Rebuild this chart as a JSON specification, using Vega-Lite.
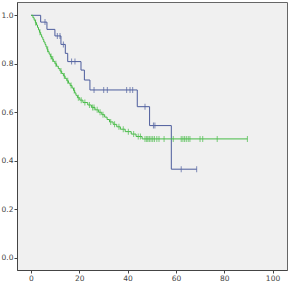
{
  "$schema": "https://vega.github.io/schema/vega-lite/v6.json",
  "autosize": "none",
  "width": 270,
  "height": 268,
  "padding": {"left": 17, "top": 2, "right": 3, "bottom": 15},
  "background": "white",
  "config": {
    "view": {"fill": "#f0f0f0", "stroke": "#666", "strokeWidth": 1},
    "axis": {"grid": false, "labelFont": "DejaVu Sans", "labelFontSize": 7.5, "labelColor": "#444", "tickColor": "#444", "tickSize": 3, "domainColor": "#444", "title": null, "labelPadding": 1}
  },
  "data": {"values": [
    {"g":"B","t":0,"s":1.0,"c":0},
    {"g":"B","t":4.0,"s":0.972,"c":0},
    {"g":"B","t":5.8,"s":0.972,"c":1},
    {"g":"B","t":6.6,"s":0.942,"c":0},
    {"g":"B","t":9.9,"s":0.915,"c":0},
    {"g":"B","t":10.9,"s":0.915,"c":1},
    {"g":"B","t":12.0,"s":0.915,"c":1},
    {"g":"B","t":12.4,"s":0.88,"c":0},
    {"g":"B","t":13.4,"s":0.88,"c":1},
    {"g":"B","t":14.2,"s":0.843,"c":0},
    {"g":"B","t":15.2,"s":0.809,"c":0},
    {"g":"B","t":16.8,"s":0.809,"c":1},
    {"g":"B","t":18.2,"s":0.809,"c":1},
    {"g":"B","t":20.7,"s":0.774,"c":0},
    {"g":"B","t":22.1,"s":0.733,"c":0},
    {"g":"B","t":24.4,"s":0.692,"c":0},
    {"g":"B","t":26.1,"s":0.692,"c":1},
    {"g":"B","t":30.1,"s":0.692,"c":1},
    {"g":"B","t":31.6,"s":0.692,"c":1},
    {"g":"B","t":39.6,"s":0.692,"c":1},
    {"g":"B","t":41.0,"s":0.692,"c":1},
    {"g":"B","t":42.1,"s":0.692,"c":1},
    {"g":"B","t":44.0,"s":0.623,"c":0},
    {"g":"B","t":47.2,"s":0.623,"c":1},
    {"g":"B","t":49.1,"s":0.545,"c":0},
    {"g":"B","t":50.7,"s":0.545,"c":1},
    {"g":"B","t":51.3,"s":0.545,"c":1},
    {"g":"B","t":58.1,"s":0.365,"c":0},
    {"g":"B","t":62.2,"s":0.365,"c":1},
    {"g":"B","t":68.6,"s":0.365,"c":1},
    {"g":"G","t":0,"s":1.0,"c":0},
    {"g":"G","t":0.8,"s":0.99,"c":0},
    {"g":"G","t":1.3,"s":0.98,"c":0},
    {"g":"G","t":1.8,"s":0.97,"c":0},
    {"g":"G","t":1.9,"s":0.97,"c":1},
    {"g":"G","t":2.3,"s":0.96,"c":0},
    {"g":"G","t":2.7,"s":0.95,"c":0},
    {"g":"G","t":3.1,"s":0.94,"c":0},
    {"g":"G","t":3.5,"s":0.93,"c":0},
    {"g":"G","t":3.7,"s":0.93,"c":1},
    {"g":"G","t":4.0,"s":0.92,"c":0},
    {"g":"G","t":4.4,"s":0.91,"c":0},
    {"g":"G","t":4.9,"s":0.90,"c":0},
    {"g":"G","t":5.3,"s":0.89,"c":0},
    {"g":"G","t":5.8,"s":0.88,"c":0},
    {"g":"G","t":6.2,"s":0.87,"c":0},
    {"g":"G","t":6.6,"s":0.86,"c":0},
    {"g":"G","t":6.9,"s":0.86,"c":1},
    {"g":"G","t":7.0,"s":0.85,"c":0},
    {"g":"G","t":7.5,"s":0.84,"c":0},
    {"g":"G","t":8.0,"s":0.83,"c":0},
    {"g":"G","t":8.3,"s":0.83,"c":1},
    {"g":"G","t":8.6,"s":0.82,"c":0},
    {"g":"G","t":9.0,"s":0.82,"c":1},
    {"g":"G","t":9.2,"s":0.81,"c":0},
    {"g":"G","t":9.9,"s":0.80,"c":0},
    {"g":"G","t":10.3,"s":0.80,"c":1},
    {"g":"G","t":10.6,"s":0.79,"c":0},
    {"g":"G","t":11.3,"s":0.78,"c":0},
    {"g":"G","t":12.0,"s":0.77,"c":0},
    {"g":"G","t":12.4,"s":0.77,"c":1},
    {"g":"G","t":12.7,"s":0.76,"c":0},
    {"g":"G","t":13.4,"s":0.75,"c":0},
    {"g":"G","t":13.8,"s":0.75,"c":1},
    {"g":"G","t":14.1,"s":0.74,"c":0},
    {"g":"G","t":14.8,"s":0.73,"c":0},
    {"g":"G","t":15.2,"s":0.73,"c":1},
    {"g":"G","t":15.5,"s":0.72,"c":0},
    {"g":"G","t":16.2,"s":0.71,"c":0},
    {"g":"G","t":16.6,"s":0.71,"c":1},
    {"g":"G","t":17.0,"s":0.70,"c":0},
    {"g":"G","t":17.6,"s":0.69,"c":0},
    {"g":"G","t":17.9,"s":0.69,"c":1},
    {"g":"G","t":18.1,"s":0.68,"c":0},
    {"g":"G","t":18.6,"s":0.67,"c":0},
    {"g":"G","t":19.2,"s":0.66,"c":0},
    {"g":"G","t":19.6,"s":0.66,"c":1},
    {"g":"G","t":20.2,"s":0.65,"c":0},
    {"g":"G","t":20.8,"s":0.65,"c":1},
    {"g":"G","t":21.5,"s":0.64,"c":0},
    {"g":"G","t":22.3,"s":0.64,"c":1},
    {"g":"G","t":23.5,"s":0.63,"c":0},
    {"g":"G","t":24.2,"s":0.63,"c":1},
    {"g":"G","t":25.0,"s":0.62,"c":0},
    {"g":"G","t":25.5,"s":0.62,"c":1},
    {"g":"G","t":26.1,"s":0.62,"c":1},
    {"g":"G","t":26.5,"s":0.61,"c":0},
    {"g":"G","t":27.4,"s":0.61,"c":1},
    {"g":"G","t":28.0,"s":0.60,"c":0},
    {"g":"G","t":28.6,"s":0.60,"c":1},
    {"g":"G","t":29.3,"s":0.59,"c":0},
    {"g":"G","t":29.8,"s":0.59,"c":1},
    {"g":"G","t":30.5,"s":0.58,"c":0},
    {"g":"G","t":31.5,"s":0.57,"c":0},
    {"g":"G","t":32.5,"s":0.56,"c":0},
    {"g":"G","t":33.0,"s":0.56,"c":1},
    {"g":"G","t":34.0,"s":0.55,"c":0},
    {"g":"G","t":34.6,"s":0.55,"c":1},
    {"g":"G","t":35.5,"s":0.54,"c":0},
    {"g":"G","t":36.4,"s":0.54,"c":1},
    {"g":"G","t":37.0,"s":0.53,"c":0},
    {"g":"G","t":38.2,"s":0.53,"c":1},
    {"g":"G","t":39.0,"s":0.52,"c":0},
    {"g":"G","t":40.3,"s":0.52,"c":1},
    {"g":"G","t":41.5,"s":0.51,"c":0},
    {"g":"G","t":42.5,"s":0.51,"c":1},
    {"g":"G","t":43.5,"s":0.50,"c":0},
    {"g":"G","t":44.4,"s":0.50,"c":1},
    {"g":"G","t":45.3,"s":0.50,"c":1},
    {"g":"G","t":46.0,"s":0.49,"c":0},
    {"g":"G","t":47.2,"s":0.49,"c":1},
    {"g":"G","t":47.9,"s":0.49,"c":1},
    {"g":"G","t":48.4,"s":0.49,"c":1},
    {"g":"G","t":49.0,"s":0.49,"c":1},
    {"g":"G","t":49.7,"s":0.49,"c":1},
    {"g":"G","t":50.4,"s":0.49,"c":1},
    {"g":"G","t":51.1,"s":0.49,"c":1},
    {"g":"G","t":52.1,"s":0.49,"c":1},
    {"g":"G","t":53.0,"s":0.49,"c":1},
    {"g":"G","t":55.1,"s":0.49,"c":1},
    {"g":"G","t":58.9,"s":0.49,"c":1},
    {"g":"G","t":62.2,"s":0.49,"c":1},
    {"g":"G","t":62.9,"s":0.49,"c":1},
    {"g":"G","t":63.6,"s":0.49,"c":1},
    {"g":"G","t":64.3,"s":0.49,"c":1},
    {"g":"G","t":65.1,"s":0.49,"c":1},
    {"g":"G","t":65.8,"s":0.49,"c":1},
    {"g":"G","t":70.0,"s":0.49,"c":1},
    {"g":"G","t":71.1,"s":0.49,"c":1},
    {"g":"G","t":77.1,"s":0.49,"c":1},
    {"g":"G","t":89.6,"s":0.49,"c":1}
  ]},
  "encoding": {
    "x": {"field": "t", "type": "quantitative", "scale": {"domain": [-5.8, 106], "nice": false, "zero": false}, "axis": {"values": [0, 20, 40, 60, 80, 100], "format": "d"}},
    "y": {"field": "s", "type": "quantitative", "scale": {"domain": [-0.051, 1.055], "nice": false, "zero": false}, "axis": {"values": [0, 0.2, 0.4, 0.6, 0.8, 1.0], "format": ".1f"}},
    "color": {"field": "g", "type": "nominal", "scale": {"domain": ["B", "G"], "range": ["#4c5c9c", "#46bb46"]}, "legend": null}
  },
  "layer": [
    {"mark": {"type": "line", "interpolate": "step-after", "strokeWidth": 1}},
    {"transform": [{"filter": "datum.c == 1"}], "mark": {"type": "tick", "orient": "vertical", "size": 6, "thickness": 1}}
  ]
}
